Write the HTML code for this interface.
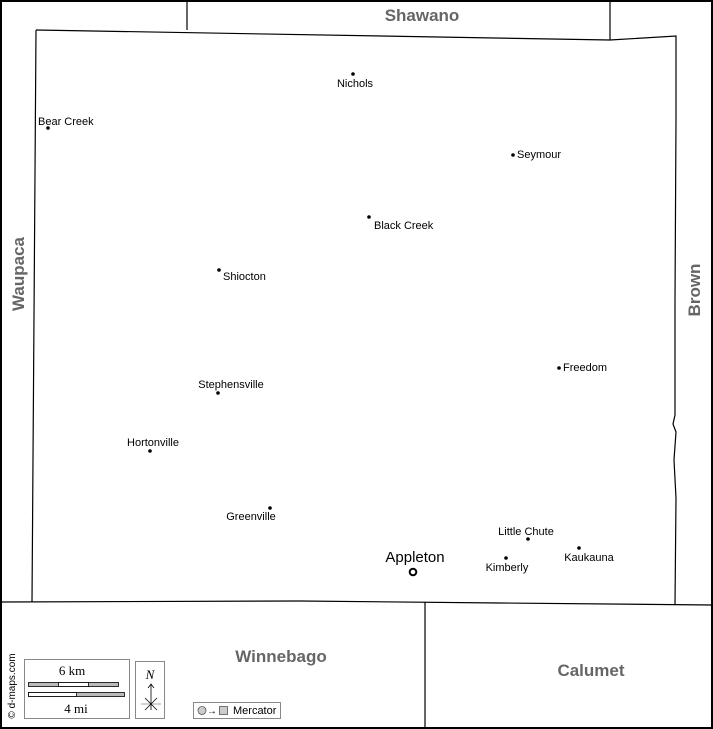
<!DOCTYPE html>
<html><head><meta charset="utf-8"><style>
html,body{margin:0;padding:0;background:#fff}
svg{display:block}
text{font-family:"Liberation Sans",sans-serif}
text.serif{font-family:"Liberation Serif",serif}
</style></head><body>
<svg width="713" height="729" viewBox="0 0 713 729" xmlns="http://www.w3.org/2000/svg">
<rect x="1" y="1" width="711" height="727" fill="#fff" stroke="#000" stroke-width="2"/>
<g fill="none" stroke="#000" stroke-width="1.2">
<path d="M187,1 V30"/>
<path d="M610,1 V40"/>
<path d="M36,30 L610,40 L676,36 L676,120 L675,300 L675,415 L673,424 L676,432 L674,460 L676,498 L675,604"/>
<path d="M36,30 L32,602"/>
<path d="M1,602 L300,601 L500,603 L712,605"/>
<path d="M425,602 V728"/>
</g>
<g font-weight="bold" fill="#666" font-size="17">
<text x="422" y="21" text-anchor="middle">Shawano</text>
<text x="281" y="662" text-anchor="middle">Winnebago</text>
<text x="591" y="676" text-anchor="middle">Calumet</text>
<text transform="translate(24,274) rotate(-90)" text-anchor="middle">Waupaca</text>
<text transform="translate(700,290) rotate(-90)" text-anchor="middle">Brown</text>
</g>
<g font-size="11" fill="#000">
<circle cx="353" cy="74" r="1.8"/><text x="355" y="87" text-anchor="middle">Nichols</text>
<circle cx="48" cy="128" r="1.8"/><text x="38" y="125">Bear Creek</text>
<circle cx="513" cy="155" r="1.8"/><text x="517" y="158">Seymour</text>
<circle cx="369" cy="217" r="1.8"/><text x="374" y="229">Black Creek</text>
<circle cx="219" cy="270" r="1.8"/><text x="223" y="280">Shiocton</text>
<circle cx="559" cy="368" r="1.8"/><text x="563" y="371">Freedom</text>
<circle cx="218" cy="393" r="1.8"/><text x="231" y="388" text-anchor="middle">Stephensville</text>
<circle cx="150" cy="451" r="1.8"/><text x="153" y="446" text-anchor="middle">Hortonville</text>
<circle cx="270" cy="508" r="1.8"/><text x="251" y="520" text-anchor="middle">Greenville</text>
<circle cx="528" cy="539" r="1.8"/><text x="526" y="535" text-anchor="middle">Little Chute</text>
<circle cx="506" cy="558" r="1.8"/><text x="507" y="571" text-anchor="middle">Kimberly</text>
<circle cx="579" cy="548" r="1.8"/><text x="589" y="561" text-anchor="middle">Kaukauna</text>
<text x="415" y="562" text-anchor="middle" font-size="15">Appleton</text>
</g>
<circle cx="413" cy="572" r="3.3" fill="none" stroke="#000" stroke-width="2"/>
<text transform="translate(15,686) rotate(-90)" text-anchor="middle" font-size="10" fill="#000">© d-maps.com</text>
<rect x="24.5" y="659.5" width="105" height="59" fill="#fff" stroke="#888"/>
<text class="serif" x="72" y="675" text-anchor="middle" font-size="13">6 km</text>
<rect x="28.5" y="682.5" width="90" height="4" fill="#bbb" stroke="#000" stroke-width="0.8"/>
<rect x="58.5" y="682.5" width="30" height="4" fill="#fff" stroke="#000" stroke-width="0.8"/>
<rect x="28.5" y="692.5" width="96" height="4" fill="#bbb" stroke="#000" stroke-width="0.8"/>
<rect x="28.5" y="692.5" width="48" height="4" fill="#fff" stroke="#000" stroke-width="0.8"/>
<text class="serif" x="76" y="713" text-anchor="middle" font-size="13">4 mi</text>
<rect x="135.5" y="661.5" width="29" height="57" fill="#fff" stroke="#888"/>
<text class="serif" x="150" y="679" text-anchor="middle" font-style="italic" font-size="13">N</text>
<g stroke="#000" stroke-width="0.8" fill="none">
<path d="M151,684 V710 M148,688 L151,684 L154,688"/>
<path d="M141,704 H161" stroke="#888"/>
<path d="M145,698 L157,710 M157,698 L145,710"/>
</g>
<rect x="193.5" y="702.5" width="87" height="16" fill="#fff" stroke="#888"/>
<circle cx="202" cy="710.5" r="4" fill="#ccc" stroke="#555" stroke-width="0.8"/>
<text x="207" y="714" font-size="10">→</text>
<rect x="219.5" y="706.5" width="8" height="8" fill="#ccc" stroke="#555" stroke-width="0.8"/>
<text x="233" y="714" font-size="11">Mercator</text>
</svg>
</body></html>
